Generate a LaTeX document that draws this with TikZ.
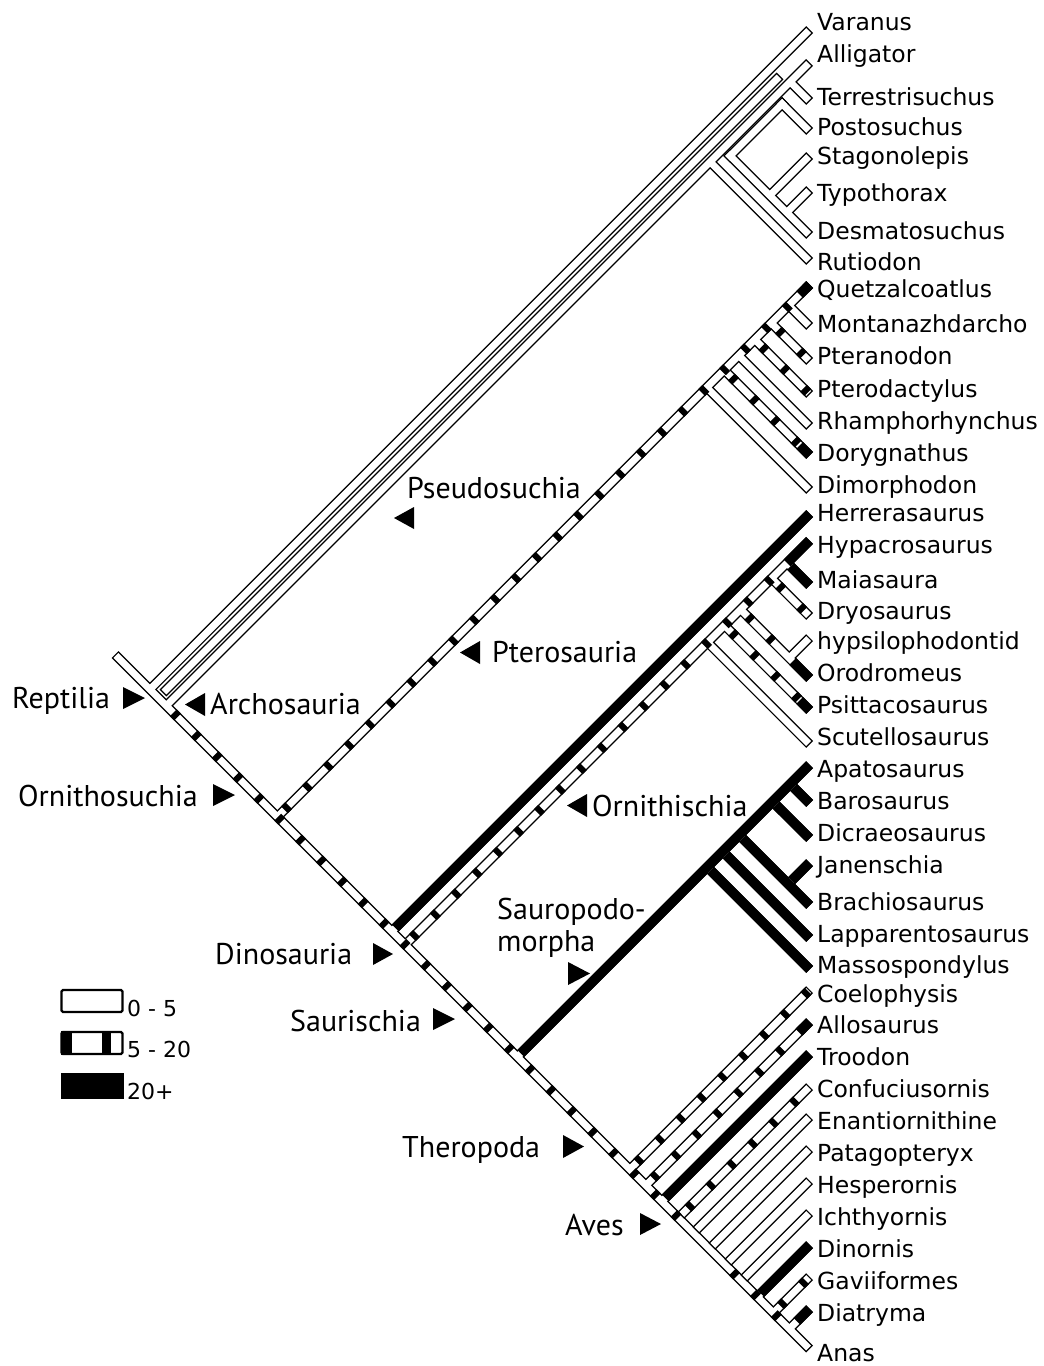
\documentclass[tikz,border=0pt]{standalone}
\usepackage{fontspec}
\setmainfont{DejaVu Sans}
\newfontfamily\cladefont{PT Sans}
\usetikzlibrary{calc}

\tikzset{
  outl/.style={line width=9.8pt, draw=black},
  fil/.style={line width=7.0pt, draw=white, shorten <=1.4pt, shorten >=1.4pt},
  blkbar/.style={line width=9.8pt, draw=black},
  hat/.style={line width=9.8pt, draw=black, dash pattern=on 6pt off 23.5pt, shorten <=10pt},
  leaf/.style={anchor=base west, inner sep=0pt, font=\fontsize{23.5}{28}\selectfont},
  clade/.style={anchor=base west, inner sep=0pt, font=\cladefont\fontsize{30}{34}\selectfont},
  legtxt/.style={anchor=base west, inner sep=0pt, font=\fontsize{22}{26}\selectfont},
}

\newcommand\brr[2]{}
\newcommand\cbrr[2]{}
\newcommand\structlist{%
  \brr{root}{tAna}
  \brr{nV}{tVar}
  \brr{nArch}{tAll}
  \brr{pTer}{tTer}
  \brr{pRut}{tRut}
  \brr{dDa}{dPa}
  \brr{dPb}{tPos}
  \brr{dDb}{tDes}
  \brr{dQ}{tSta}
  \brr{dR}{tTyp}
  \brr{nOrn}{tQue}
  \brr{pMon}{tMon}
  \brr{pPte}{tPte}
  \brr{pPtd}{tPtd}
  \brr{pRha}{tRha}
  \brr{pDor}{tDor}
  \brr{pDim}{tDim}
  \brr{nHerr}{tHer}
  \brr{nOrni}{tHyp}
  \brr{oMai}{tMai}
  \brr{oDry}{tDry}
  \brr{oHyp}{tOro}
  \brr{oNh}{tHys}
  \brr{oPsi}{tPsi}
  \brr{oScu}{tScu}
  \brr{nSaur}{tApa}
  \brr{sBar}{tBar}
  \brr{sDic}{tDic}
  \brr{sBr}{tBra}
  \brr{sNj}{tJan}
  \brr{sLap}{tLap}
  \brr{sMas}{tMas}
  \brr{nTher}{tCoe}
  \brr{nAllo}{tAlo}
  \brr{nTroo}{tTro}
  \brr{nDino}{tDin}
  \brr{nGavi}{tGav}
  \brr{nDiat}{tDia}
  \cbrr{fA}{fB}
  \cbrr{cCon}{tCon}
  \cbrr{cEna}{tEna}
  \cbrr{cPat}{tPat}
  \cbrr{cHes}{tHes}
  \cbrr{cIch}{tIch}
}
\newcommand\hatchbar[2]{\draw[hat] (#1) -- (#2);}
\newcommand\blackbar[3][4.9pt]{\draw[blkbar, shorten <=#1] (#2) -- (#3);}
\newcommand\blackend[3]{\draw[blkbar] ($(#2)!#3!(#1)$) -- (#2);}

\begin{document}
\begin{tikzpicture}[x=1pt,y=-1pt]
\useasboundingbox (0,0) rectangle (1044,1366);

% ---- main stem nodes
\coordinate (root) at (115,654.5);
\coordinate (nV) at (149.9,689.4);
\coordinate (nArch) at (166.25,705.75);
\coordinate (nOrn) at (277.35,816.85);
\coordinate (nHerr) at (391.85,931.35);
\coordinate (nOrni) at (405.25,944.75);
\coordinate (nSaur) at (517.35,1056.85);
\coordinate (nTher) at (629.85,1169.35);
\coordinate (nAllo) at (645.85,1185.35);
\coordinate (nTroo) at (661.85,1201.35);
\coordinate (nConf) at (678.35,1217.85);
\coordinate (nHesp) at (725.35,1264.85);
\coordinate (nDino) at (757.35,1296.85);
\coordinate (nGavi) at (773.35,1312.85);
\coordinate (nDiat) at (789.35,1328.85);
\coordinate (tAna) at (809.6,1349.1);
% closed-end starts (Aves)
\coordinate (cCon) at (680.85,1215.35);
\coordinate (cEna) at (695.85,1230.35);
\coordinate (cPat) at (711.85,1246.35);
\coordinate (cHes) at (727.85,1262.35);
\coordinate (cIch) at (743.85,1278.35);
% pseudosuchia
\coordinate (pTer) at (790.1,81.9);
\coordinate (pRut) at (710.1,161.9);
\coordinate (dD) at (730.1,155.9);
\coordinate (dP) at (782.1,103.9);
\coordinate (dQ) at (769.7,195.5);
\coordinate (dR) at (786.7,212.5);
\coordinate (dDa) at (726.64,159.36);
\coordinate (dPa) at (785.56,100.44);
\coordinate (dPb) at (778.64,100.44);
\coordinate (dDb) at (726.64,152.44);
\coordinate (fA) at (163,693);
\coordinate (fB) at (780,76);
% pterosaurs
\coordinate (pMon) at (788.7,305.5);
\coordinate (pPte) at (771.2,323);
\coordinate (pPtd) at (754.7,339.5);
\coordinate (pRha) at (738.7,355.5);
\coordinate (pDor) at (724.2,370);
\coordinate (pDim) at (706.7,387.5);
% ornithischians
\coordinate (oMai) at (787.1,562.9);
\coordinate (oDry) at (771.6,578.4);
\coordinate (oHyp) at (740.6,609.4);
\coordinate (oNh) at (789.2,658);
\coordinate (oPsi) at (724.6,625.4);
\coordinate (oScu) at (707.6,642.4);
% sauropodomorphs
\coordinate (sBar) at (790.2,784);
\coordinate (sDic) at (772.7,801.5);
\coordinate (sBr) at (739.2,835);
\coordinate (sNj) at (788.2,884);
\coordinate (sLap) at (722.7,851.5);
\coordinate (sMas) at (707.2,867);
% tips
\foreach \n/\y in {Var/29.6,All/62.4,Ter/101.4,Pos/131.4,Sta/155.6,Typ/189.6,Des/235.4,Rut/261.4,
  Que/284.6,Mon/326.4,Pte/361.4,Ptd/394.4,Rha/426.4,Dor/455.4,Dim/490.4,
  Her/513.6,Hyp/540.4,Mai/585.4,Dry/616.4,Hys/637.6,Oro/678.4,Psi/710.4,Scu/744.4,
  Apa/764.6,Bar/803.4,Dic/838.4,Jan/862.6,Bra/905.4,Lap/938.4,Mas/969.4,
  Coe/989.6,Alo/1021.6,Tro/1053.6,Con/1086.6,Ena/1116.6,Pat/1148.6,Hes/1180.6,Ich/1212.6,
  Din/1244.6,Gav/1276.6,Dia/1308.6}
  {\coordinate (t\n) at (809.6,\y);}

% ---- pass 1: outlines of joined bars
\renewcommand\brr[2]{\draw[outl] (#1) -- (#2);}
\renewcommand\cbrr[2]{}
\structlist
% ---- pass 2: fills of joined bars
\renewcommand\brr[2]{\draw[fil] (#1) -- (#2);}
\structlist
% ---- pass 3: closed bars
\renewcommand\brr[2]{}
\renewcommand\cbrr[2]{\draw[outl] (#1) -- (#2); \draw[fil] (#1) -- (#2);}
\structlist

% ---- pass 4: decorations
\hatchbar{nArch}{nConf}
\hatchbar{nHesp}{nDiat}
\hatchbar{nOrn}{tQue}\blackend{nOrn}{tQue}{14pt}
\hatchbar{pPte}{tPte}
\hatchbar{pPtd}{tPtd}
\hatchbar{pDor}{tDor}\blackend{pDor}{tDor}{14pt}
\blackbar{nHerr}{tHer}
\hatchbar{nOrni}{oMai}
\blackbar[0pt]{oMai}{tHyp}
\blackbar{oMai}{tMai}
\hatchbar{oDry}{tDry}
\hatchbar{oHyp}{oNh}
\blackbar{oNh}{tOro}
\hatchbar{oPsi}{tPsi}\blackend{oPsi}{tPsi}{14pt}
\blackbar{nSaur}{tApa}
\blackbar{sBar}{tBar}
\blackbar{sDic}{tDic}
\blackbar{sBr}{tBra}
\blackbar{sNj}{tJan}
\blackbar{sLap}{tLap}
\blackbar{sMas}{tMas}
\hatchbar{nTher}{tCoe}
\hatchbar{nAllo}{tAlo}\blackend{nAllo}{tAlo}{14pt}
\blackbar{nTroo}{tTro}
\hatchbar{cCon}{tCon}
\blackbar{nDino}{tDin}
\hatchbar{nGavi}{tGav}
\blackend{nDiat}{tDia}{18pt}

% ---- leaf labels
\foreach \t/\y in {Varanus/30,Alligator/62,Terrestrisuchus/105,Postosuchus/135,Stagonolepis/164,
  Typothorax/201,Desmatosuchus/239,Rutiodon/270,Quetzalcoatlus/297,Montanazhdarcho/332,
  Pteranodon/364,Pterodactylus/397,Rhamphorhynchus/429,Dorygnathus/461,Dimorphodon/493,
  Herrerasaurus/521,Hypacrosaurus/553,Maiasaura/588,Dryosaurus/619,hypsilophodontid/649,
  Orodromeus/681,Psittacosaurus/713,Scutellosaurus/745,Apatosaurus/777,Barosaurus/809,
  Dicraeosaurus/841,Janenschia/873,Brachiosaurus/910,Lapparentosaurus/942,Massospondylus/973,
  Coelophysis/1002,Allosaurus/1033,Troodon/1065,Confuciusornis/1097,Enantiornithine/1129,
  Patagopteryx/1161,Hesperornis/1193,Ichthyornis/1225,Dinornis/1257,Gaviiformes/1289,
  Diatryma/1321,Anas/1361}
  {\node[leaf] (l\t) at (817,\y) {\t};}

% ---- clade labels
\node[clade] (cRep) at (12,708) {Reptilia};
\node[clade] (cArc) at (210,714) {Archosauria};
\node[clade] (cOrs) at (18,806) {Ornithosuchia};
\node[clade] (cPse) at (407,498) {Pseudosuchia};
\node[clade] (cPtr) at (492,662) {Pterosauria};
\node[clade] (cOrn) at (592,816) {Ornithischia};
\node[clade] (cDin) at (215,964) {Dinosauria};
\node[clade] (cSa1) at (497,919) {Sauropodo-};
\node[clade] (cSa2) at (497,951) {morpha};
\node[clade] (cSau) at (290,1031) {Saurischia};
\node[clade] (cThe) at (402,1157) {Theropoda};
\node[clade] (cAve) at (565,1235) {Aves};

% ---- triangles
\fill (123,687) -- (123,709) -- (145,698) -- cycle;
\fill (205,693) -- (205,716) -- (185,704.5) -- cycle;
\fill (213,784) -- (213,806) -- (235,795) -- cycle;
\fill (414,507) -- (414,529) -- (394,518) -- cycle;
\fill (480,641) -- (480,664) -- (460,652.5) -- cycle;
\fill (587,794) -- (587,817) -- (567,805.5) -- cycle;
\fill (373,943) -- (373,965) -- (393,954) -- cycle;
\fill (568,962) -- (568,985) -- (590,973.5) -- cycle;
\fill (433,1008) -- (433,1030) -- (455,1019) -- cycle;
\fill (563,1135) -- (563,1158) -- (584,1146.5) -- cycle;
\fill (640,1213) -- (640,1235) -- (661,1224) -- cycle;

% ---- legend
\draw[line width=2.2pt, fill=white, rounded corners=1.5pt] (61.5,990) rectangle (122.5,1012);
\fill (60.5,1031) rectangle (72,1055);
\fill (102,1031) rectangle (111,1055);
\draw[line width=2.2pt, rounded corners=1.5pt] (61.5,1032) rectangle (122.5,1054);
\fill (60.5,1073) rectangle (123.5,1099);
\node[legtxt] (g1) at (127,1016) {0 - 5};
\node[legtxt] (g2) at (127,1057) {5 - 20};
\node[legtxt] (g3) at (127,1099) {20+};
\end{tikzpicture}
\end{document}
